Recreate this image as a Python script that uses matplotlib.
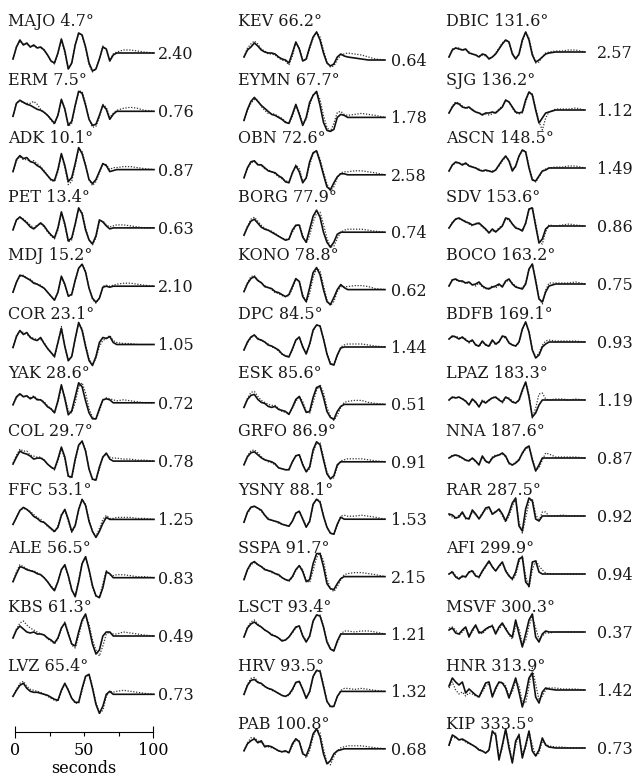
import matplotlib
matplotlib.use("Agg")
import matplotlib.pyplot as plt

W, H = 633, 779
plt.rcParams['font.family'] = ['DejaVu Serif']

# sample times (s) of every trace
times = [0, 2.5, 5, 7.5, 10, 12.5, 15, 17.5, 20, 22.5, 25, 27.5, 30, 32.5, 35, 37.5,
         40, 42.5, 45, 47.5, 50, 52.5, 55, 57.5, 60, 62.5, 65, 67.5, 70, 72.5, 75,
         80, 85, 90, 95, 102]

stations = ['MAJO', 'ERM', 'ADK', 'PET', 'MDJ', 'COR', 'YAK', 'COL', 'FFC', 'ALE', 'KBS', 'LVZ',
            'KEV', 'EYMN', 'OBN', 'BORG', 'KONO', 'DPC', 'ESK', 'GRFO', 'YSNY', 'SSPA', 'LSCT', 'HRV', 'PAB',
            'DBIC', 'SJG', 'ASCN', 'SDV', 'BOCO', 'BDFB', 'LPAZ', 'NNA', 'RAR', 'AFI', 'MSVF', 'HNR', 'KIP']
distances = [4.7, 7.5, 10.1, 13.4, 15.2, 23.1, 28.6, 29.7, 53.1, 56.5, 61.3, 65.4,
             66.2, 67.7, 72.6, 77.9, 78.8, 84.5, 85.6, 86.9, 88.1, 91.7, 93.4, 93.5, 100.8,
             131.6, 136.2, 148.5, 153.6, 163.2, 169.1, 183.3, 187.6, 287.5, 299.9, 300.3, 313.9, 333.5]
amplitudes = [2.40, 0.76, 0.87, 0.63, 2.10, 1.05, 0.72, 0.78, 1.25, 0.83, 0.49, 0.73,
              0.64, 1.78, 2.58, 0.74, 0.62, 1.44, 0.51, 0.91, 1.53, 2.15, 1.21, 1.32, 0.68,
              2.57, 1.12, 1.49, 0.86, 0.75, 0.93, 1.19, 0.87, 0.92, 0.94, 0.37, 1.42, 0.73]

observed = [
    [-3, 3, 6.5, 4, 5, 3, 4, 2.5, 3, 1.5, -1, -4, -5, 0, 7, 1, -8, -5, 4, 10, 9, 3, -5, -9, -8, -3, 3, 2, -4, -1, 0, 0, 0, 0, 0, 0],
    [-2.5, 4, 5.5, 4.5, 3.5, 3, 2, 1, 0.5, -0.5, -2, -4, -6, -2, 6, 1, -7, -5, 3, 10, 9, 3, -4, -7, -6.5, -2, 3, 1, -4, -1.5, 0, 0, 0, 0, 0, 0],
    [-1, 5, 7, 5.5, 6, 4, 3.5, 2, 1, -1, -3, -5, -5.5, 0, 8, 2, -6, -4, 3, 11, 8, 2, -5, -7, -5, -1, 3, 2, -1, -0.5, 0, 0, 0, 0, 0, 0],
    [-1, 4, 5.5, 4, 2.5, 0.5, -0.5, 1, 2.5, 1, -1.5, -3.5, -5, 0, 8, 2, -6.5, -5, 2, 10, 7, -1, -6, -8, -4, 4, 3, 1, -0.5, 0, 0, 0, 0, 0, 0, 0],
    [-3, 2, 5.5, 5, 4, 3, 1.5, 1, 0, -1, -3, -5, -7, -3, 5, 1, -5, -4, 3, 9, 11, 7, -1, -6, -8, -6, -0.5, 0, -0.5, 0, 0, 0, 0, 0, 0, 0],
    [-1.5, 4, 7, 5, 6, 3.5, 2.5, 2, 3.5, 0.5, -2, -4, -6, 1, 8, -1, -8, -6, 3, 11, 7, -1, -8, -10.5, -6, 1, 3.5, 3, 4, 1, 0, 0, 0, 0, 0, 0],
    [-1, 3, 4.5, 3, 3.5, 2, 3, 1.5, 1.5, 0, -2, -3, -5, 1, 9, 2, -6, -4, 3, 10, 8, 1, -5, -8, -8, -3, 1.5, 2, 1.5, 0, 0, 0, 0, 0, 0, 0],
    [-1.5, 2, 5, 4, 3.5, 2.5, 1, 1.5, 1.5, 0.5, -1.5, -3, -4, 1, 7, 2, -7.5, -8, 1, 8, 10, 5, -4, -9, -9.5, -3, 2, 4, 1, 0, 0, 0, 0, 0, 0, 0],
    [-2.5, 1, 4.5, 6, 5, 3.5, 1.5, 0.5, -1, -1.5, -3, -4.5, -6, -4, 2, 5, 0, -6, -3, 5, 10, 7, -1, -6, -9, -6, -2, 1, 0, 0, 0, 0, 0, 0, 0, 0],
    [-2, 2, 5.5, 5, 4, 3.5, 3, 2, 1.5, 0, -2, -4.5, -6.5, -2, 4, 6.5, 1, -6, -9.5, -2, 7, 10.5, 4, -4, -9, -10, -5, 3, 2, 0, 0, 0, 0, 0, 0, 0],
    [-1, 3, 5, 3.5, 2, 1.5, 2, 1, 1, 0.5, -1, -2, -3.5, -1, 4, 6.5, 1, -4, -5, 2, 8, 11, 4, -4, -9, -7, 0, 2, 2, 0, 0, 0, 0, 0, 0, 0],
    [-1, 2, 4.5, 5.5, 3, 1.5, 1, 1, 0.5, 0, -0.5, -1.5, -2.5, -3, 2, 5.5, 2, -2, -4, -4, 3, 9, 10, 3, -5, -9.5, -6, 0, 1.5, 0, 0, 0, 0, 0, 0, 0],
    [1.5, 5, 6.5, 8.5, 7, 5, 4, 3.5, 3.5, 3, 1.5, 0.5, 0, -1.5, 3.5, 9, 5.5, -0.5, 0.5, 6.5, 11.5, 14, 10, 3.5, -1.5, -3, -2, 1.5, 3, 2, 1.5, 1, 0.5, 0, 0, 0],
    [-1.5, 4, 8, 10, 8, 6, 4.5, 3, 1.5, 1, 0, -1, -2.5, -3, 1.5, 6.5, 1.5, -4, 0, 7.5, 11, 13, 6, -2.5, -6.5, -7, -6, 0, 1.5, 1, 0, 0, 0, 0, 0, 0],
    [-1.5, 3.5, 6.5, 7, 5, 5, 3.5, 2, 1.5, 1, -0.5, -1.5, -3.5, -4, 1, 4.5, 1.5, -4, -1.5, 6.5, 11, 12, 6.5, 0, -6, -7.5, -4, -1, 0.5, 0.5, 0, 0, 0, 0, 0, 0],
    [-1.5, 2.5, 5.5, 6.5, 4.5, 2.5, 1.5, 1, 0, -1, -2, -3, -4, -3.5, 1, 3.5, 3.5, -2.5, -5, 1.5, 8, 11, 7.5, 0, -5, -7.5, -5, -1, 0, 0, 0, 0, 0, 0, 0, 0],
    [-1, 3, 5.5, 6.5, 4.5, 3.5, 1.5, 1, 0.5, -1, -1.5, -2.5, -3.5, -2.5, 1.5, 5.5, 4, -3.5, -6, 1, 8.5, 11, 7.5, 0, -6, -7.5, -4, 0, 2.5, 1, 0, 0, 0, 0, 0, 0],
    [-1.5, 2.5, 5, 6, 4, 3.5, 2.5, 1, 0.5, -0.5, -1.5, -3.5, -4.5, -5, -1, 3.5, 5, 0, -3.5, 1.5, 8.5, 11, 10.5, 4, -3.5, -8.5, -9, -4, -0.5, 0, 0, 0, 0, 0, 0, 0],
    [-1.5, 2.5, 4.5, 5, 2.5, 1, 0.5, -1, -1.5, -1, -2.5, -3, -3.5, -5, -1.5, 2.5, 4, 0, -4, -3.5, 3.5, 8.5, 9, 3.5, -3.5, -6.5, -7.5, -3.5, -1, 0, 0, 0, 0, 0, 0, 0],
    [-1.5, 2.5, 4.5, 5, 3.5, 2, 1, 0.5, 0, -1, -3, -3.5, -4, -4, 0, 3, 3.5, -1.5, -5, -2.5, 6, 10, 8.5, 1, -6, -8.5, -7, -1.5, 0, 0, 0, 0, 0, 0, 0, 0],
    [-1.5, 3.5, 6, 6.5, 5.5, 4.5, 2, 0, -0.5, -1, -1.5, -2.5, -3, -3.5, -1, 3, 4, 0, -4, -1, 7.5, 10, 8.5, 1.5, -4, -7, -7.5, -2.5, 1, 0, 0, 0, 0, 0, 0, 0],
    [-1.5, 3.5, 6.5, 7.5, 6, 5, 3.5, 3, 2.5, 1.5, 1, -0.5, -1.5, -2, 0, 3.5, 5.5, 2.5, -2.5, -1.5, 6.5, 11.5, 11.5, 5, -3.5, -6, -6.5, -3.5, -1, 0, 0, 0, 0, 0, 0, 0],
    [-1.5, 3, 5, 6, 4.5, 3.5, 2, 1, -0.5, -1, -2, -3.5, -3, -1.5, 1, 3.5, 4, -1, -4, -1, 6.5, 9.5, 9, 3.5, -4, -7.5, -8.5, -3.5, 0, 0, 0, 0, 0, 0, 0, 0],
    [-1.5, 3, 5.5, 6, 4.5, 4, 2.5, 1.5, 1, 0, -1, -2, -2.5, -1.5, 1, 4.5, 5, 1, -3.5, 0, 7.5, 10.5, 10, 2.5, -5, -7.5, -7.5, -2.5, 0, 0, 0, 0, 0, 0, 0, 0],
    [-1, 2.5, 4, 5, 3, 4, 1, 1.5, 1, 0, -1, -1.5, -1, -2, 2.5, 5, 3.5, -2.5, -3.5, 1, 7.5, 10, 6, -2.5, -7.5, -6, -2.5, -1, -0.5, 0, 0, 0, 0, 0, 0, 0],
    [-2.5, 1, 2, 1.5, 1, 1.5, -0.5, -1, -1.5, -2.5, -1, -1.5, -3.5, -2.5, -1, 1.5, 4, 6, 5, -1, -3.5, -1, 6, 10, 6, -1.5, -5, -4, -2.5, -1, -0.5, 0, 0, 0, 0, 0],
    [-1.5, 1.5, 3.5, 3, 1.5, 1, 1.5, 0, -1, -1.5, -2.5, -1.5, -1.5, -1, -1.5, 0, 1.5, 5, 4, 1.5, -1, -1.5, -1, 5, 9, 7.5, 0, -6.5, -4, -1.5, -1, 0, 0, 0, 0, 0],
    [-1.5, 1.5, 3, 2.5, 1.5, 2.5, 1, 0.5, 0, -1, -1.5, -1, -1.5, -2, -1, 1.5, 4, 6, 3.5, -1.5, 1, 6, 9, 8, 0, -6, -6.5, -4, -1.5, -1, 0, 0, 0, 0, 0, 0],
    [-1, 1.5, 3.5, 4, 3, 2, 1.5, 0.5, 1, 1.5, 0, -1.5, -3.5, -1.5, -3, -1.5, 0, 4, 3.5, 1, -1, -1.5, -2.5, 1.5, 8.5, 9, 0, -8.5, -6.5, -1.5, 0, 0, 0, 0, 0, 0],
    [-1, 2, 2.5, 1.5, 1.5, 0.5, 1, -0.5, 0, 1, -1, -2, -2.5, -1.5, -1, 0, -1.5, 1.5, 2.5, 0, -1.5, -2, -2.5, 0, 7.5, 10, 1.5, -7.5, -9, -4, -1, 0, 0, 0, 0, 0],
    [1.5, 3, 2.5, 1.5, 2.5, 1, 0, 1, -1.5, -2, 0.5, -1.5, -2, 1, -1, 0, 3, 2.5, -0.5, -1.5, -2, 0, 6.5, 10, 5, -4, -8, -6.5, -2.5, -1, 0, 0, 0, 0, 0, 0],
    [0, 1.5, 1, 1.5, 0.5, -0.5, -2.5, 0.5, -1, -3.5, -0.5, -1.5, 0, 1, 1.5, 0, -1, 1.5, 0.5, -1, -1.5, 0, 5, 9, 1.5, -8.5, -6.5, -2.5, 0, 0, 0, 0, 0, 0, 0, 0],
    [0, 1, 1.5, 1, 0, -1, -1.5, 0, -1.5, -3.5, 1, -1.5, -2.5, 0, 1, 1.5, 2.5, 1, -2.5, -3.5, -2.5, -1, 2.5, 5, 6, -1, -6.5, -3.5, 0, 0, 0, 0, 0, 0, 0, 0],
    [1, 0.5, -1, -0.5, 2, -1, -1.5, 3, 1, -1.5, 1, 4, 4.5, 1, 2, 3.5, 1, -2.5, 1.5, 6.5, 9, -5, -7.5, 3.5, 9, 7.5, -1.5, -2.5, 0, 0, 0, 0, 0, 0, 0, 0],
    [0, 1, -1.5, -2.5, -1, -1.5, 1, 1.5, -1, -1.5, 1.5, 4, 6.5, 3.5, 1.5, 4, 6, 1.5, -1, -2.5, 1, 7.5, 8.5, -4, -6, 6, 6.5, 1, 0, 0, 0, 0, 0, 0, 0, 0],
    [1, 2, -0.5, -1, 1, 2.5, -2.5, 1, 3.5, -0.5, 0, 1.5, 2.5, 3, -1, 2.5, 4.5, 1.5, -1, -2.5, 6, -1, -7.5, -1, 6, 9, -2.5, -5, -1, 0.5, 0, 0, 0, 0, 0, 0],
    [2, 6, 4, 2.5, 4, -1.5, 0.5, -1, -2.5, -3.5, 0, 3.5, 4, -3.5, 1, 4, 3.5, 1, -4, 1, 6, -1, -8.5, -2.5, 6, 8.5, -3.5, -6.5, -1, 1, 0.5, 0, 0, 0, 0, 0],
    [1.5, 6.5, 5.5, 4, 4.5, 3.5, 2.5, 1.5, 0.5, -1, -1.5, -2.5, -1, 8.5, 6.5, -6, 1.5, 9.5, 0, -7.5, 3.5, 6.5, -5, 1.5, 8.5, -1.5, -4, -1, 5, 1.5, 0.5, 0, 0, 0, 0, 0],
]

synthetic = [
    [-3, 3, 6, 4.5, 4.5, 3, 3.5, 3, 2.5, 1.5, -1, -4, -5.5, 0, 6.5, 0, -8, -5, 4, 10, 8.5, 2.5, -6, -9.5, -8, -3, 3.5, 1.5, -3.5, -0.5, 0.5, 1.5, 1.5, 1, 0.5, 0],
    [-2.5, 4, 5.5, 4, 4, 4, 5, 3.5, 1, -0.5, -2, -4.5, -6.5, -2, 5.5, 1.5, -7.5, -6, 2.5, 10, 10, 4, -4, -8, -7.5, -3, 3.5, 2, -3, -1, 0.5, 1.5, 2, 1.5, 0.5, 0],
    [-1, 4.5, 6.5, 5, 5, 4, 4.5, 3, 1.5, -0.5, -3, -5.5, -6, -1, 7.5, 1, -7.5, -6, 2, 10.5, 9, 2.5, -5, -8, -6, -1.5, 3, 2.5, 0, 1, 1, 1.5, 1.5, 1, 0.5, 0],
    [-1, 4, 5, 4.5, 3, 1.5, 0, 1.5, 2, 0.5, -2, -4, -5.5, -1, 7.5, 1, -7, -6, 1.5, 9.5, 8, 0, -6, -8.5, -5, 3, 3.5, 1.5, 0.5, 1, 1.5, 1.5, 1, 0.5, 0, 0],
    [-3, 2, 5, 5.5, 4, 3.5, 2, 1, 0.5, -1, -3, -5, -7, -3, 4.5, 0.5, -5, -4.5, 2.5, 9, 11, 7.5, -1, -6.5, -8.5, -6, 0, 0.5, 0, 0.5, 1, 1.5, 1.5, 1, 0.5, 0],
    [-1.5, 4.5, 6.5, 6, 5, 4, 3, 2.5, 2.5, 1, -2, -4, -6.5, 1, 9, -1, -8.5, -6, 2.5, 10.5, 8, 0, -7, -10, -7, -1, 2, 3, 4.5, 2, 1, 0.5, 0.5, 0, 0, 0],
    [-1, 2.5, 4, 3.5, 3, 2.5, 3.5, 2, 1.5, 0.5, -1.5, -3, -5, 0, 8, 3, -4, -5, 0, 8, 10, 5, -3, -7, -8.5, -4, 1, 2.5, 2, 1.5, 1, 1.5, 1, 0.5, 0, 0],
    [-1, 3, 6, 5, 5, 3, 2.5, 2, 2, 0.5, -1.5, -3, -4.5, 0, 6.5, 1, -8, -8.5, 0, 7.5, 10, 5.5, -4, -9.5, -9.5, -4, 2, 3.5, 2, 1.5, 1.5, 1, 1, 0.5, 0.5, 0],
    [-2.5, 1, 4.5, 5.5, 5, 4, 2.5, 1, 0, -1.5, -3.5, -5, -6.5, -3, 2.5, 4.5, -1, -6.5, -3.5, 4.5, 10, 7.5, 0, -6, -8.5, -4.5, 0, 2, 0.5, 0.5, 1, 1, 1, 0.5, 0.5, 0],
    [-2, 3, 6.5, 5.5, 4.5, 3.5, 3.5, 2.5, 1.5, 0, -2, -4, -6, -2, 4, 6, 0.5, -6.5, -9, -1, 7.5, 10.5, 3.5, -5, -9.5, -9.5, -3, 3.5, 1.5, 1, 1.5, 1.5, 1, 0.5, 0.5, 0],
    [-1, 3.5, 6.5, 7.5, 5.5, 4, 3, 2, 1, 0.5, -1.5, -2.5, -4, -1.5, 3.5, 7, 2, -4.5, -6, 0, 7, 10.5, 6, -2, -7, -10, -5, 1, 2, 1, 1, 2, 1.5, 1, 0.5, 0],
    [-1, 2.5, 5.5, 6.5, 4, 2.5, 2, 1.5, 1, 0, -1, -2, -3, -3.5, 1.5, 5, 2.5, -2, -4.5, -4.5, 2, 8.5, 10, 4, -4, -9.5, -8, -1, 1.5, 1, 1.5, 2, 1.5, 1, 0.5, 0],
    [1.5, 6, 8, 9.5, 8, 5.5, 4.5, 3, 3, 2.5, 1, 0, -0.5, -2.5, 2, 8.5, 6, 0, 0, 5.5, 11, 14, 11.5, 5, -1, -3.5, -3, 0, 2.5, 3, 3.5, 3, 2.5, 1.5, 0.5, 0],
    [-1.5, 3.5, 7, 9, 8.5, 5.5, 3.5, 2, 2, 1.5, 0.5, -0.5, -2, -3, 0.5, 6, 2.5, -3.5, -1, 6, 11.5, 12.5, 9, 1, -5, -7, -3, 2.5, 3, 1.5, 1, 1.5, 2, 1.5, 1, 0],
    [-1.5, 3, 6, 6.5, 5.5, 4.5, 3, 2.5, 1.5, 0.5, -1, -2, -3, -3.5, 0.5, 5, 3, -3, -2, 5, 10.5, 12, 8, 1.5, -4.5, -8, -6, -1.5, 1, 1.5, 1.5, 2, 2, 1.5, 1, 0],
    [-1.5, 3, 6.5, 7.5, 5.5, 3.5, 2, 1, 0.5, -0.5, -2, -3, -3.5, -3.5, 0, 3, 4, -1.5, -5.5, -1.5, 5, 9.5, 10, 4, -3, -7.5, -7, -3, 0, 1, 1.5, 1.5, 1.5, 1, 0.5, 0],
    [-1, 3.5, 6.5, 7, 5, 3, 2, 1, 0, -1.5, -2, -3, -3.5, -3, 0.5, 5, 4.5, -2.5, -6.5, -2, 6, 10.5, 9.5, 2, -5, -8, -6, -1, 1.5, 1.5, 1.5, 2, 2, 1.5, 0.5, 0],
    [-1.5, 2, 4.5, 6, 4.5, 3, 2.5, 1.5, 0, -0.5, -2, -3.5, -4.5, -4.5, -1.5, 3, 5, 0.5, -3, 1, 8, 11, 10.5, 4.5, -3, -8, -9, -4.5, 0, 1, 1.5, 1.5, 1.5, 1, 0.5, 0],
    [-1.5, 3, 6, 6.5, 4, 2, 1, 0, -0.5, -0.5, -2, -3.5, -4, -4.5, -2, 1.5, 4, 1.5, -3.5, -4.5, 1, 7, 10, 6, -1.5, -6, -8, -5.5, -1.5, 1, 1.5, 2, 2, 1, 0.5, 0],
    [-1.5, 3, 5.5, 6, 4.5, 2.5, 1, 0, -0.5, -1.5, -3, -3.5, -4, -3.5, 0, 3, 3.5, -1, -5, -3.5, 4.5, 9.5, 9.5, 2.5, -5, -8.5, -8, -2.5, 0.5, 1, 1.5, 1.5, 1.5, 1, 0.5, 0],
    [-1.5, 3, 5.5, 6.5, 5.5, 4, 2, 0.5, -0.5, -1, -2, -2.5, -3, -3.5, -1, 3, 4, 0.5, -3.5, -1.5, 7, 10, 9, 2, -4, -7, -7.5, -3, 1.5, 2, 1.5, 1.5, 2, 1.5, 1, 0],
    [-1.5, 3, 6, 7, 6, 5, 4, 3, 2, 1.5, 0.5, -0.5, -1.5, -2.5, -0.5, 3, 5.5, 3.5, -2, -3, 3, 9.5, 12, 8, -1, -6, -7.5, -5, -1.5, 1, 1.5, 2, 2, 1.5, 1, 0],
    [-1.5, 3.5, 6, 7, 5, 3.5, 2, 1, 0, -1, -2, -3, -3, -1.5, 0.5, 3, 4, -0.5, -3.5, -1.5, 6, 9.5, 9.5, 4, -3.5, -7, -8.5, -4.5, 0, 1.5, 1.5, 1, 1.5, 1.5, 1, 0],
    [-1.5, 3.5, 6.5, 7, 5, 3.5, 2.5, 1.5, 0.5, 0, -1, -2, -2.5, -2, 0.5, 4, 5, 1.5, -3, -0.5, 7, 10.5, 10.5, 3.5, -4.5, -8, -7.5, -3, 0.5, 1.5, 1.5, 1, 1.5, 1, 0.5, 0],
    [-1, 3, 5.5, 5.5, 4, 3, 2, 1, 0.5, 0, -1, -1.5, -1.5, -2, 1.5, 4.5, 4, -1.5, -4.5, -1, 6, 10, 8, 0, -7, -8, -4, -1, 0.5, 1, 1.5, 1.5, 1.5, 1, 0.5, 0],
    [-2.5, 1.5, 2, 2, 1, 1, 0, -1, -1.5, -2, -1.5, -2, -3, -2.5, -0.5, 2, 4.5, 6, 4.5, -0.5, -3, -1.5, 5, 10, 7, -0.5, -5.5, -5, -2.5, -0.5, 0, 0.5, 0.5, 1, 1, 0],
    [-1.5, 2, 4, 3.5, 2, 1, 1, 0.5, -1, -1.5, -2, -2, -2.5, -2, -1, 0.5, 2, 4.5, 4, 1, -1.5, -2, -1.5, 4, 9, 8, 1, -6, -10, -4, -1, 0.5, 0.5, 0.5, 1, 0],
    [-1.5, 1.5, 2.5, 2.5, 2, 2, 1.5, 0.5, 0, -0.5, -1.5, -1.5, -1.5, -1.5, -1, 1, 3.5, 5.5, 4, -0.5, 0.5, 5.5, 9, 8.5, 1, -5.5, -7, -4.5, -1.5, -0.5, 0, 0.5, 0.5, 1, 1, 0],
    [-1, 2, 3.5, 3.5, 3, 2.5, 1, 0, 1.5, 1, -0.5, -2, -3, -2.5, -2.5, -1, 0.5, 3.5, 3, 1, -0.5, -1.5, -2, 1, 8, 9.5, 1.5, -8, -9, -3, 0.5, 0, 0.5, 1, 0.5, 0],
    [-1, 2.5, 2, 1.5, 1, 0.5, 0.5, 0, -1, 0.5, -1.5, -2.5, -2, -1, -2, -0.5, -1, 1, 2, 0.5, -1, -2, -2, 0.5, 7, 10, 2.5, -7, -10, -3, 0.5, 0.5, 0.5, 0.5, 1, 0],
    [1.5, 2.5, 3, 2, 2, 1.5, -0.5, 0.5, -1, -2.5, 0, -1, -2.5, 0.5, -1.5, 0.5, 2.5, 2, 0, -1.5, -2, -0.5, 6, 10, 5.5, -3.5, -7.5, -5.5, -1.5, 0.5, 1, 0.5, 0.5, 0.5, 0.5, 0],
    [0, 1, 1.5, 1, 1, -1, -2, 0, -1.5, -3, 0, -1, -0.5, 1.5, 1, 0.5, -1.5, 1, 1, -0.5, -1.5, -0.5, 4, 9, 3, -9, -4, 3, 3.5, 0.5, 0, 0.5, 0.5, 0, 0.5, 0],
    [0, 1.5, 1.5, 0.5, 0, -1.5, -1, -0.5, -2, -3, 0.5, -2, -2, 0.5, 1.5, 1.5, 2, 0.5, -3, -3.5, -2, -0.5, 2, 4.5, 5.5, 0, -6, -5, -1, 2.5, 2, 0.5, 0.5, 0.5, 0.5, 0],
    [0.5, -0.5, -1.5, 0.5, 1.5, -1.5, -1, 2, 0.5, -1, 1.5, 3, 4, 0.5, 2.5, 3, 0, -3, 0, 5, 8.5, -3, -8.5, -1, 7, 8.5, 1, -2.5, 2, 2, 0, 0, 0.5, 0, 0, 0],
    [0, 1.5, -1, -2, -1.5, -1, 0.5, 2, -0.5, -2, 1, 3.5, 6, 4, 1.5, 3.5, 5.5, 2, -0.5, -3, -0.5, 6, 9, -1, -7, 2, 7, 4, 2, 0.5, 0, 0, 0, 0, 0, 0],
    [2, 2.5, 1, -1.5, 0, 2, -1.5, 0, 3, 0.5, -1, 1, 2, 3.5, 0, 1.5, 3.5, 2.5, -1.5, -3.5, 3, 2, -6, -4.5, 3, 8, 2, -3.5, -2, -0.5, -0.5, 0, 0, 0, 0, 0],
    [1, 4, 0, -2, -1, -3, -1.5, -2, -3, -3.5, -1, 2, 3, -2.5, 0, 3.5, 4, 2, -3, -1, 4.5, 2, -6, -6.5, 2, 11, 3, -5, -3, 0, 1, 1, 0.5, 0.5, 0.5, 0],
    [1, 5.5, 5, 4.5, 4, 3, 2, 1.5, 0.5, -0.5, -1.5, -2.5, -1.5, 7.5, 7.5, -5, 0, 9.5, 2, -7, 1.5, 7, -3, 0, 8, 1.5, -4, -2.5, 3.5, 2, 1, 0.5, 0.5, 0, 0, 0],
]

# layout in pixels: first station, rows, trace left, trace width, label x, number x, first baseline, row step
columns = [
    (0, 12, 13, 141, 8, 158, 53, 58.3),
    (12, 13, 244, 141, 238, 391, 60, 57.4),
    (25, 13, 449, 136, 446, 597, 52, 58.0),
]
label_top, label_step = 20, 58.6
half = 30  # half height of each trace box in pixels

fig = plt.figure(figsize=(W / 100, H / 100), dpi=100)
text_kw = dict(fontsize=11.5, color='#1a1a1a', va='baseline', ha='left')

for first, rows, tx, tw, lx, nx, base0, step in columns:
    for r in range(rows):
        i = first + r
        base = base0 + step * r
        ax = fig.add_axes([tx / W, (H - base - half) / H, tw / W, 2 * half / H])
        ax.set_xlim(0, 102)
        ax.set_ylim(-15, 15)
        ax.axis('off')
        ax.plot(times, synthetic[i], color='#333333', lw=0.9, ls=(0, (1, 1.3)), clip_on=False)
        ax.plot(times, observed[i], color='#111111', lw=1.2, clip_on=False)
        ly = label_top + label_step * r
        fig.text(lx / W, 1 - (ly + 6) / H, f"{stations[i]} {distances[i]}\u00b0", **text_kw)
        fig.text(nx / W, 1 - (base + 6) / H, f"{amplitudes[i]:.2f}", **text_kw)

# time scale bar
sb = fig.add_axes([15 / W, 1 - 732 / H, 138 / W, 0.0001])
sb.set_xlim(0, 100)
sb.set_yticks([])
for side in ['top', 'left', 'right']:
    sb.spines[side].set_visible(False)
sb.spines['bottom'].set_linewidth(0.8)
sb.set_xticks([0, 100], labels=['0', '100'])
sb.set_xticks([25, 50, 75], labels=['', '50', ''], minor=True)
sb.tick_params(axis='x', which='major', direction='inout', length=8, width=0.8, pad=3, labelsize=11.5)
sb.tick_params(axis='x', which='minor', direction='out', length=3, width=0.8, pad=4, labelsize=11.5)
sb.set_xlabel('seconds', fontsize=11.5, labelpad=1)

fig.savefig('out.png', dpi=100)
